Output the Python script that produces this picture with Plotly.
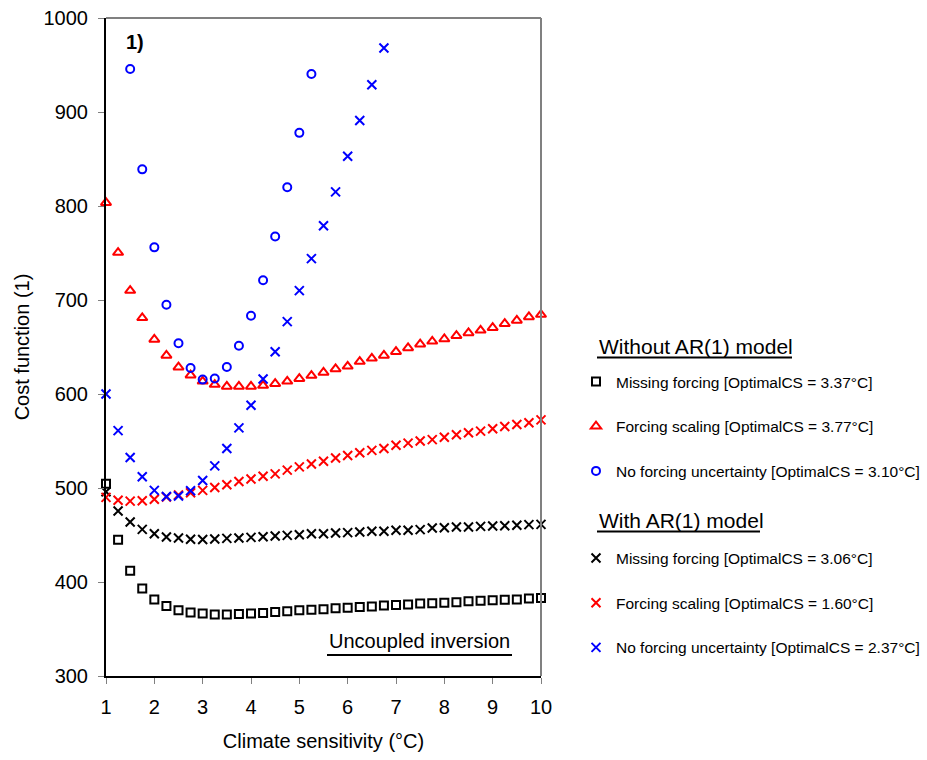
import plotly.graph_objects as go

# ---------------- data ----------------
climate_sensitivity = [1.0, 1.25, 1.5, 1.75, 2.0, 2.25, 2.5, 2.75, 3.0, 3.25, 3.5, 3.75,
                       4.0, 4.25, 4.5, 4.75, 5.0, 5.25, 5.5, 5.75, 6.0, 6.25, 6.5, 6.75,
                       7.0, 7.25, 7.5, 7.75, 8.0, 8.25, 8.5, 8.75, 9.0, 9.25, 9.5, 9.75, 10.0]

# Without AR(1) model
noar_missing = [504.5, 445, 412, 393, 381.5, 374.5, 370, 367.5, 366.5, 365.5, 365.5, 366,
                366.5, 367, 368, 369, 370, 370.5, 371, 372, 372.5, 373.5, 374, 375,
                375.5, 376, 377, 377.5, 378, 378.5, 379.5, 380, 380.5, 381, 381.5, 382.5, 383]
noar_scaling = [803.5, 750.5, 710, 681, 658, 641, 628.5, 620, 613.5, 610, 608, 608,
                608, 609, 611, 613.5, 616.3, 619.6, 623, 626.7, 629.5, 634.5, 638, 641,
                645, 649, 653, 656, 658.5, 662, 665, 667.7, 670.5, 674.8, 678.3, 682, 684.5]
noar_nounc = [None, None, 945.8, 839, 756, 695, 654, 627.7, 615.3, 616.4, 628.8, 651.4,
              683.3, 721, 767.6, 820, 877.8, 940.5, None, None, None, None, None, None,
              None, None, None, None, None, None, None, None, None, None, None, None, None]

# With AR(1) model
ar_missing = [496, 475.5, 463.8, 456, 451.4, 447.8, 446.8, 445.4, 445.3, 445.7, 446.4, 446.8,
              447.5, 448.2, 448.9, 449.6, 450.3, 451.4, 451.4, 452.1, 452.5, 453.2, 453.9, 453.9,
              455, 455, 455.7, 457.5, 457.8, 458.5, 458.5, 459.2, 459.6, 459.9, 460.3, 461, 461.3]
ar_scaling = [490, 487, 486, 486.5, 488, 490.5, 492.5, 495, 497.5, 500.5, 503.5, 507,
              509.5, 512.5, 515, 519, 522.5, 525.5, 528.5, 532, 534.5, 537.5, 540, 542,
              545.5, 547.7, 550, 551.5, 554, 556.6, 558.8, 560.5, 563, 565.5, 567.6, 569.4, 572.5]
ar_nounc = [600, 561, 532.5, 512, 497.5, 491, 491.5, 497, 508, 523.5, 542, 564,
            588, 616, 645, 677, 710, 744, 779, 815, 853, 891, 929, 968,
            None, None, None, None, None, None, None, None, None, None, None, None, None]

noar_names = ["Missing forcing [OptimalCS = 3.37°C]",
              "Forcing scaling [OptimalCS = 3.77°C]",
              "No forcing uncertainty [OptimalCS = 3.10°C]"]
ar_names = ["Missing forcing [OptimalCS = 3.06°C]",
            "Forcing scaling [OptimalCS = 1.60°C]",
            "No forcing uncertainty [OptimalCS = 2.37°C]"]

x_ticks = [1, 2, 3, 4, 5, 6, 7, 8, 9, 10]
y_ticks = [300, 400, 500, 600, 700, 800, 900, 1000]

FONT = "Liberation Sans, Arial, sans-serif"

fig = go.Figure()

series = [
    (noar_missing, noar_names[0], "square-open", "#000000", 8, "legend", "g1"),
    (noar_scaling, noar_names[1], "triangle-up-open", "#FF0000", 9, "legend", "g2"),
    (noar_nounc, noar_names[2], "circle-open", "#0000FF", 8, "legend", "g3"),
    (ar_missing, ar_names[0], "x-thin-open", "#000000", 9, "legend2", "g4"),
    (ar_scaling, ar_names[1], "x-thin-open", "#FF0000", 9, "legend2", "g5"),
    (ar_nounc, ar_names[2], "x-thin-open", "#0000FF", 9, "legend2", "g6"),
]
for vals, name, sym, col, size, leg, grp in series:
    fig.add_trace(go.Scatter(
        x=climate_sensitivity, y=vals, mode="markers", name=name,
        legend=leg, legendgroup=grp, cliponaxis=False,
        marker=dict(symbol=sym, size=size, color=col, line=dict(color=col, width=2)),
    ))

# plot area in pixels: x 106..541, y 18..676
L, R, T, B = 106, 541, 18, 676
W, H = R - L, B - T

def px(xp):
    return (xp - L) / W

def py(yp):
    return (B - yp) / H

fig.update_layout(
    width=927, height=760,
    margin=dict(l=L, r=927 - R, t=T, b=760 - B, autoexpand=False),
    paper_bgcolor="white", plot_bgcolor="white",
    font=dict(family=FONT, size=20, color="black"),
    xaxis=dict(range=[1, 10], tickvals=x_ticks, ticks="outside", ticklen=6,
               tickcolor="#808080", showline=True, linecolor="black", linewidth=2,
               showgrid=False, zeroline=False, tickfont=dict(size=20), automargin=False,
               ticklabelstandoff=6,
               title=dict(text="Climate sensitivity (°C)", font=dict(size=20), standoff=17)),
    yaxis=dict(range=[300, 1000], tickvals=y_ticks, ticks="outside", ticklen=6,
               tickcolor="#808080", showline=True, linecolor="black", linewidth=2,
               showgrid=False, zeroline=False, tickfont=dict(size=20), automargin=False,
               ticklabelstandoff=6,
               title=dict(text="Cost function (1)", font=dict(size=20), standoff=9)),
    legend=dict(x=px(576), y=py(365), xanchor="left", yanchor="top",
                font=dict(size=15.5), tracegroupgap=21.5, bgcolor="rgba(0,0,0,0)"),
    legend2=dict(x=px(576), y=py(541.5), xanchor="left", yanchor="top",
                 font=dict(size=15.5), tracegroupgap=21.5, bgcolor="rgba(0,0,0,0)"),
    showlegend=True,
)

# grey top and right frame lines
fig.add_shape(type="line", xref="paper", yref="paper", x0=0, x1=1, y0=1, y1=1,
              line=dict(color="#808080", width=2))
fig.add_shape(type="line", xref="paper", yref="paper", x0=1, x1=1, y0=0, y1=1,
              line=dict(color="#808080", width=2))

# annotations
fig.add_annotation(text="<b>1)</b>", xref="paper", yref="paper", x=px(124), y=py(42),
                   xanchor="left", yanchor="middle", showarrow=False, font=dict(size=20))
fig.add_annotation(text="Uncoupled inversion", xref="paper", yref="paper", x=px(327), y=py(641),
                   xanchor="left", yanchor="middle", showarrow=False, font=dict(size=20))
fig.add_shape(type="line", xref="paper", yref="paper", x0=px(327), x1=px(512),
              y0=py(655), y1=py(655), line=dict(color="black", width=2))

fig.add_annotation(text="Without AR(1) model", xref="paper", yref="paper", x=px(597), y=py(346),
                   xanchor="left", yanchor="middle", showarrow=False, font=dict(size=21))
fig.add_shape(type="line", xref="paper", yref="paper", x0=px(597), x1=px(792),
              y0=py(357.5), y1=py(357.5), line=dict(color="black", width=2))
fig.add_annotation(text="With AR(1) model", xref="paper", yref="paper", x=px(597), y=py(520),
                   xanchor="left", yanchor="middle", showarrow=False, font=dict(size=21))
fig.add_shape(type="line", xref="paper", yref="paper", x0=px(597), x1=px(760),
              y0=py(531.5), y1=py(531.5), line=dict(color="black", width=2))

fig.write_html("out.html", config={"displayModeBar": False},
               post_script="document.body.style.margin='0px';")
